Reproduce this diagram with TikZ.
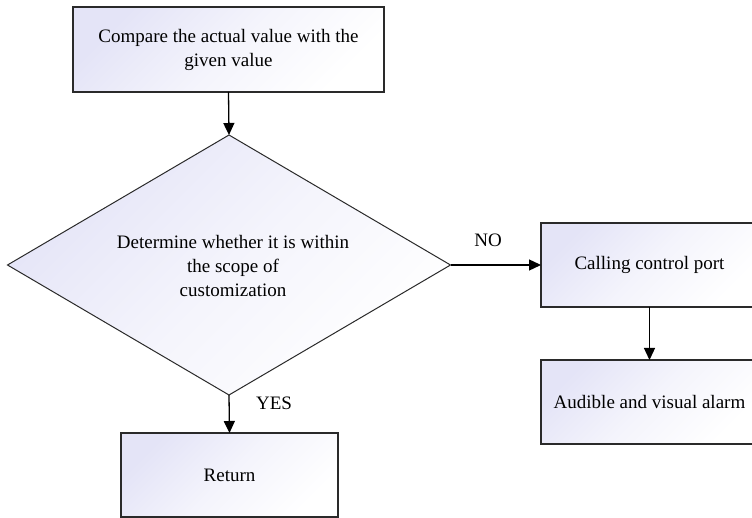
\documentclass[tikz,border=0pt]{standalone}
\usepackage{fontspec}
\setmainfont{Liberation Serif}
\usetikzlibrary{shapes.geometric,arrows.meta}
\definecolor{lavender}{HTML}{E4E4F7}
\definecolor{edge}{HTML}{2A2A2A}
\tikzset{
  shade/.style={top color=lavender, bottom color=white, middle color=lavender!40!white,
                shading angle=45},
  box/.style={draw=edge, line width=1.3pt, shade, rectangle, inner sep=0pt, outer sep=0pt,
              minimum width=217pt, minimum height=84pt, align=center},
  decision/.style={draw=edge, line width=1pt, shade, diamond, inner sep=0pt, outer sep=0pt,
              minimum width=443pt, minimum height=260pt, align=center},
  flow/.style={draw=black, line width=1.3pt, -{Triangle[length=12pt,width=11pt]}},
  tag/.style={inner sep=0pt}
}
\begin{document}
\begin{tikzpicture}[x=1pt, y=-1pt, font=\fontsize{19}{24}\selectfont]
  \clip (0,0) rectangle (752,518);
  \fill[white] (0,0) rectangle (752,518);

  % process boxes
  \node[box, minimum width=311pt, minimum height=85pt] (compare) at (228.5,49.5)
    {Compare the actual value with the\\given value};
  \node[decision] (scope) at (229,265) {};
  \node[tag, align=center] (scopetext) at (233,266)
    {Determine whether it is within\\the scope of\\customization};
  \node[box] (call) at (649.5,265) {Calling control port};
  \node[box] (alarm) at (649.5,402) {Audible and visual alarm};
  \node[box] (ret) at (229.5,475) {Return};

  % branch labels
  \node[tag] (no) at (488,240) {NO};
  \node[tag] (yes) at (274,403) {YES};

  % connectors
  \draw[flow] (compare.south) -- (scope.north);
  \draw[flow] (scope.east) -- (call.west);
  \draw[flow] (scope.south) -- (ret.north);
  \draw[flow] (call.south) -- (alarm.north);
\end{tikzpicture}
\end{document}
